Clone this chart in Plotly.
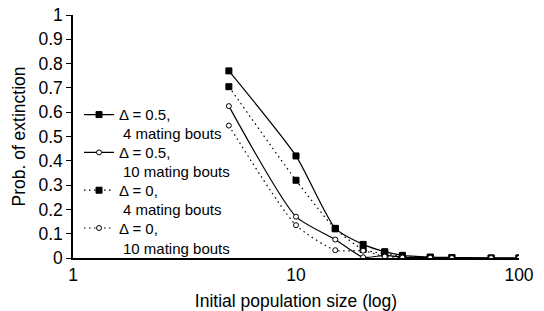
import plotly.graph_objects as go

x_vals = [5, 10, 15, 20, 25, 30, 40, 50, 75, 100]
a_sq_solid = [0.77, 0.42, 0.122, 0.056, 0.026, 0.011, 0.004, 0.002, 0.0, 0.0]
b_ci_solid = [0.625, 0.17, 0.076, 0.003, 0.011, 0.003, 0.002, 0.001, 0.0, 0.0]
c_sq_dot = [0.705, 0.32, 0.12, 0.035, 0.018, 0.007, 0.002, 0.001, 0.0, 0.0]
d_ci_dot = [0.545, 0.135, 0.032, 0.03, 0.006, 0.002, 0.001, 0.0, 0.0, 0.0]
legend_first = ["Δ = 0.5,", "Δ = 0.5,", "Δ = 0,", "Δ = 0,"]
legend_second = ["4 mating bouts", "10 mating bouts", "4 mating bouts", "10 mating bouts"]
y_ticks = [0, 0.1, 0.2, 0.3, 0.4, 0.5, 0.6, 0.7, 0.8, 0.9, 1]
y_labels = ["0", "0.1", "0.2", "0.3", "0.4", "0.5", "0.6", "0.7", "0.8", "0.9", "1"]
x_ticks = [1, 10, 100]

FONT = "Liberation Sans, Arial, sans-serif"

fig = go.Figure()
series = [
    (a_sq_solid, "solid", "square", "black"),
    (b_ci_solid, "solid", "circle", "white"),
    (c_sq_dot, "1.5px,3.5px", "square", "black"),
    (d_ci_dot, "1.5px,3.5px", "circle", "white"),
]
for i, ((ys, dash, sym, fill), nm) in enumerate(zip(series, legend_first)):
    fig.add_trace(go.Scatter(
        x=x_vals, y=ys, name=nm, mode="lines+markers", legendgroup=f"g{i}",
        line=dict(color="black", width=1.2, dash=dash, shape="spline", smoothing=0.6),
        marker=dict(symbol=sym, size=6 if sym == "square" else 5, color=fill,
                    line=dict(color="black", width=1)),
    ))

# second lines of legend labels
leg_top_y = 0.513
leg_step = 38.3 / 243
for i, txt in enumerate(legend_second):
    fig.add_annotation(
        x=0.107, y=leg_top_y - i * leg_step, xref="paper", yref="paper",
        text=txt, showarrow=False, xanchor="left", yanchor="middle",
        font=dict(family=FONT, size=15, color="black"),
    )

# compensate for the 8px default body margin of the html page
fig.update_layout(
    width=536, height=303,
    margin=dict(l=65, r=25, t=7, b=53),
    plot_bgcolor="white", paper_bgcolor="white",
    font=dict(family=FONT, size=17.5, color="black"),
    showlegend=True,
    legend=dict(x=0.0135, y=0.657, xanchor="left", yanchor="top",
                bgcolor="rgba(0,0,0,0)", font=dict(size=15), valign="middle",
                tracegroupgap=15.3, itemwidth=30),
)
fig.update_xaxes(
    type="log", range=[0, 2], tickvals=x_ticks, ticktext=["1", "10", "100"],
    showgrid=False, zeroline=False, showline=True, linecolor="black", linewidth=1.5,
    ticks="", automargin=False, tickfont=dict(size=17.5), ticklabeloverflow="allow",
    title=dict(text="Initial population size (log)", standoff=11, font=dict(size=17.5)),
)
fig.update_yaxes(
    range=[0, 1], tickvals=y_ticks, ticktext=y_labels,
    showgrid=False, zeroline=False, showline=True, linecolor="black", linewidth=1.5,
    ticks="outside", ticklen=5, tickcolor="black", automargin=False, tickfont=dict(size=17.5),
    ticklabeloverflow="allow",
    title=dict(text="Prob. of extinction", standoff=8, font=dict(size=17.5)),
)
fig.write_html("out.html")
